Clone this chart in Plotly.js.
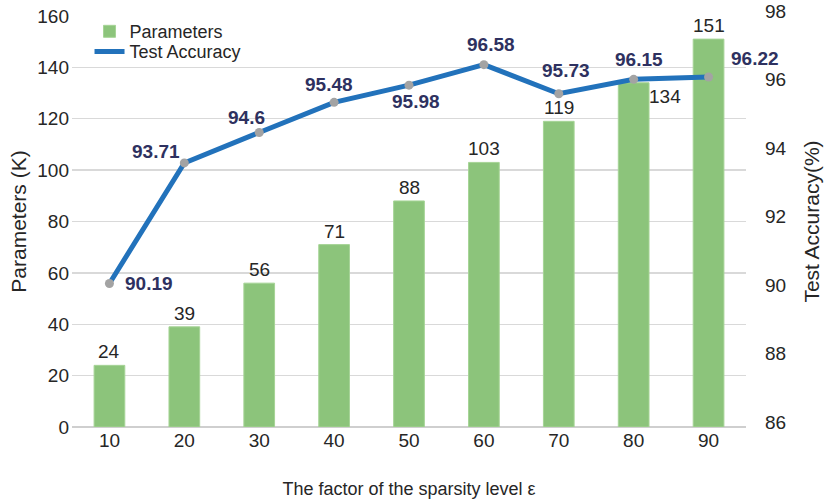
<!DOCTYPE html>
<html>
<head>
<meta charset="utf-8">
<script src="https://cdn.plot.ly/plotly-3.0.1.min.js"></script>
<style>
  html, body { margin: 0; padding: 0; background: #fff; }
  #chart { width: 830px; height: 502px; }
</style>
</head>
<body>
<div id="chart"></div>
<script>
var sparsity = ["10", "20", "30", "40", "50", "60", "70", "80", "90"];
var params = [24, 39, 56, 71, 88, 103, 119, 134, 151];
var accuracy = [90.19, 93.71, 94.6, 95.48, 95.98, 96.58, 95.73, 96.15, 96.22];

// label offsets in px (styling only)
var accShiftX = [40, -28, -13, -5, 7, 7, 7, 5, 46];
var accShiftY = [0, 11, 15, 18, -16, 20, 23, 20, 18];
var parShiftX = [0, 0, 0, 0, 0, 0, 0, 31, 0];
var parShiftY = [1, 1, 1, 1, 1, 1, 1, -26, 1];

var FONT = "Liberation Sans, Arial, sans-serif";

var bars = {
  x: sparsity,
  y: params,
  type: "bar",
  name: "Parameters",
  width: 0.41,
  marker: {color: "#8cc47b", line: {color: "#a6d496", width: 1}},
  legend: "legend",
  hoverinfo: "y"
};

var line = {
  x: sparsity,
  y: accuracy,
  yaxis: "y2",
  type: "scatter",
  mode: "lines",
  name: "Test Accuracy",
  line: {color: "#2272bb", width: 5},
  legend: "legend2"
};

var dots = {
  x: sparsity,
  y: accuracy,
  yaxis: "y2",
  type: "scatter",
  mode: "markers",
  showlegend: false,
  marker: {color: "#a3a3a3", size: 9}
};

var annotations = [];
for (let i = 0; i < sparsity.length; i++) {
  // category axis: annotations are placed by category index
  annotations.push({
    x: i, y: params[i], xref: "x", yref: "y",
    text: String(params[i]), showarrow: false,
    yanchor: "bottom", xshift: parShiftX[i], yshift: parShiftY[i],
    font: {family: FONT, size: 19, color: "#262626"}
  });
  annotations.push({
    x: i, y: accuracy[i], xref: "x", yref: "y2",
    text: "<b>" + accuracy[i] + "</b>", showarrow: false,
    xshift: accShiftX[i], yshift: accShiftY[i],
    font: {family: FONT, size: 19, color: "#2e3160"}
  });
}

var legendBase = {
  xanchor: "left", yanchor: "middle",
  bgcolor: "rgba(0,0,0,0)",
  font: {family: FONT, size: 18, color: "#262626"},
  itemwidth: 30
};

var layout = {
  width: 830,
  height: 502,
  margin: {l: 72, r: 84, t: 16, b: 75},
  paper_bgcolor: "#fff",
  plot_bgcolor: "#fff",
  font: {family: FONT, size: 19, color: "#262626"},
  showlegend: true,
  legend: Object.assign({x: 0.026, y: 0.962}, legendBase),
  legend2: Object.assign({x: 0.026, y: 0.913}, legendBase),
  xaxis: {
    type: "category",
    range: [-0.5, 8.5],
    showgrid: false,
    zeroline: false,
    showline: false,
    ticks: "",
    tickfont: {size: 19},
    title: {text: "The factor of the sparsity level ε", font: {size: 18}, standoff: 32}
  },
  yaxis: {
    range: [0, 160],
    dtick: 20,
    gridcolor: "#d9d9d9",
    gridwidth: 1.3,
    zeroline: true,
    zerolinecolor: "#cfcfcf",
    zerolinewidth: 2,
    showline: false,
    tickfont: {size: 19},
    ticklabelstandoff: 2,
    title: {text: "Parameters (K)", font: {size: 21}, standoff: 4}
  },
  yaxis2: {
    overlaying: "y",
    side: "right",
    range: [86, 98],
    dtick: 2,
    showgrid: false,
    zeroline: false,
    showline: false,
    tickfont: {size: 19},
    ticklabelstandoff: 18,
    ticklabelshift: -5,
    title: {text: "Test Accuracy(%)", font: {size: 21}, standoff: 18}
  },
  annotations: annotations
};

Plotly.newPlot("chart", [bars, line, dots], layout, {displayModeBar: false, staticPlot: true});
</script>
</body>
</html>
